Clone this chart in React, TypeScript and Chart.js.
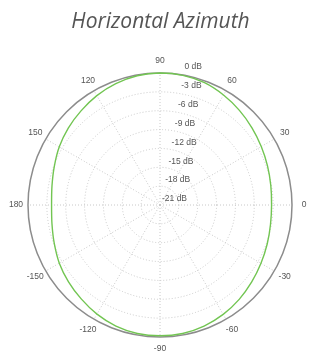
import React, { useEffect, useRef } from "react";
import { Chart, registerables } from "chart.js";

Chart.register(...registerables);

// Azimuth angle (degrees) for each spoke, clockwise from the top
const angles = [
  90, 80, 70, 60, 50, 40, 30, 20, 10, 0,
  -10, -20, -30, -40, -50, -60, -70, -80, -90,
  -100, -110, -120, -130, -140, -150, -160, -170, 180,
  170, 160, 150, 140, 130, 120, 110, 100,
];

// Response level (dB) at each angle above
const levels = [
  0, -0.05, -0.3, -0.8, -1.35, -1.9, -2.4, -2.8, -3.1, -3.25,
  -3.15, -2.85, -2.45, -1.95, -1.4, -0.9, -0.5, -0.25, -0.2,
  -0.25, -0.5, -0.95, -1.5, -2.0, -2.5, -3.1, -3.55, -3.75,
  -3.55, -3.1, -2.5, -1.95, -1.45, -0.9, -0.45, -0.12,
];

// Radial ring values (dB)
const ringTicks = [0, -3, -6, -9, -12, -15, -18, -21];
const labeledAngles = [90, 60, 30, 0, -30, -60, -90, -120, -150, 180, 150, 120];

const TITLE = "Horizontal Azimuth";

const labelsPlugin = {
  id: "polarLabels",
  afterDraw(chart: any) {
    const scale = chart.scales.r;
    const ctx = chart.ctx;
    ctx.save();
    ctx.fillStyle = "#555";
    ctx.font = "8.5px 'Liberation Sans', Arial, sans-serif";
    ctx.textAlign = "center";
    ctx.textBaseline = "middle";
    angles.forEach((a, i) => {
      if (!labeledAngles.includes(a)) return;
      const p = scale.getPointPosition(i, scale.drawingArea + 12);
      ctx.fillText(String(a), p.x, p.y);
    });
    ctx.textAlign = "left";
    ringTicks.forEach((v) => {
      const r = scale.getDistanceFromCenterForValue(v);
      const x = scale.xCenter + 2 + r * 0.17;
      const y = scale.yCenter - r - 6;
      ctx.fillText(`${v} dB`, x, y);
    });
    ctx.restore();
  },
};

export default function App() {
  const ref = useRef<HTMLCanvasElement | null>(null);
  useEffect(() => {
    if (!ref.current) return;
    const chart = new Chart(ref.current, {
      type: "radar",
      data: {
        labels: angles.map(String),
        datasets: [
          {
            data: levels,
            borderColor: "#72c552",
            borderWidth: 1.4,
            pointRadius: 0,
            fill: false,
            tension: 0.3,
          },
        ],
      },
      options: {
        responsive: false,
        animation: false,
        devicePixelRatio: 1,
        layout: { padding: { left: 28, right: 16, top: 0, bottom: 21 } },
        plugins: {
          legend: { display: false },
          tooltip: { enabled: false },
          title: {
            display: true,
            text: TITLE,
            color: "#555",
            font: { family: "'Open Sans', sans-serif", size: 21, style: "italic", weight: "normal" },
            padding: { top: 9, bottom: 38.8 },
          },
        },
        scales: {
          r: {
            min: -21,
            max: 0,
            ticks: { display: false, stepSize: 3 },
            pointLabels: { display: false },
            grid: {
              circular: true,
              color: (c: any) => (c.index === ringTicks.length - 1 ? "#8c8c8c" : "#c8c8c8"),
              lineWidth: (c: any) => (c.index === ringTicks.length - 1 ? 1.5 : 1),
            },
            border: {
              dash: (c: any) => (c.index === ringTicks.length - 1 ? [] : [1, 2]),
            },
            angleLines: {
              display: true,
              color: "#c8c8c8",
              lineWidth: (c: any) => (labeledAngles.includes(angles[c.index]) ? 1 : 0),
              borderDash: [1, 2],
            },
          },
        },
      },
      plugins: [labelsPlugin],
    });
    return () => chart.destroy();
  }, []);
  return (
    <div style={{ position: "fixed", left: 0, top: 0, width: 309, height: 358, background: "#fff" }}>
      <canvas ref={ref} width={309} height={358} />
    </div>
  );
}
